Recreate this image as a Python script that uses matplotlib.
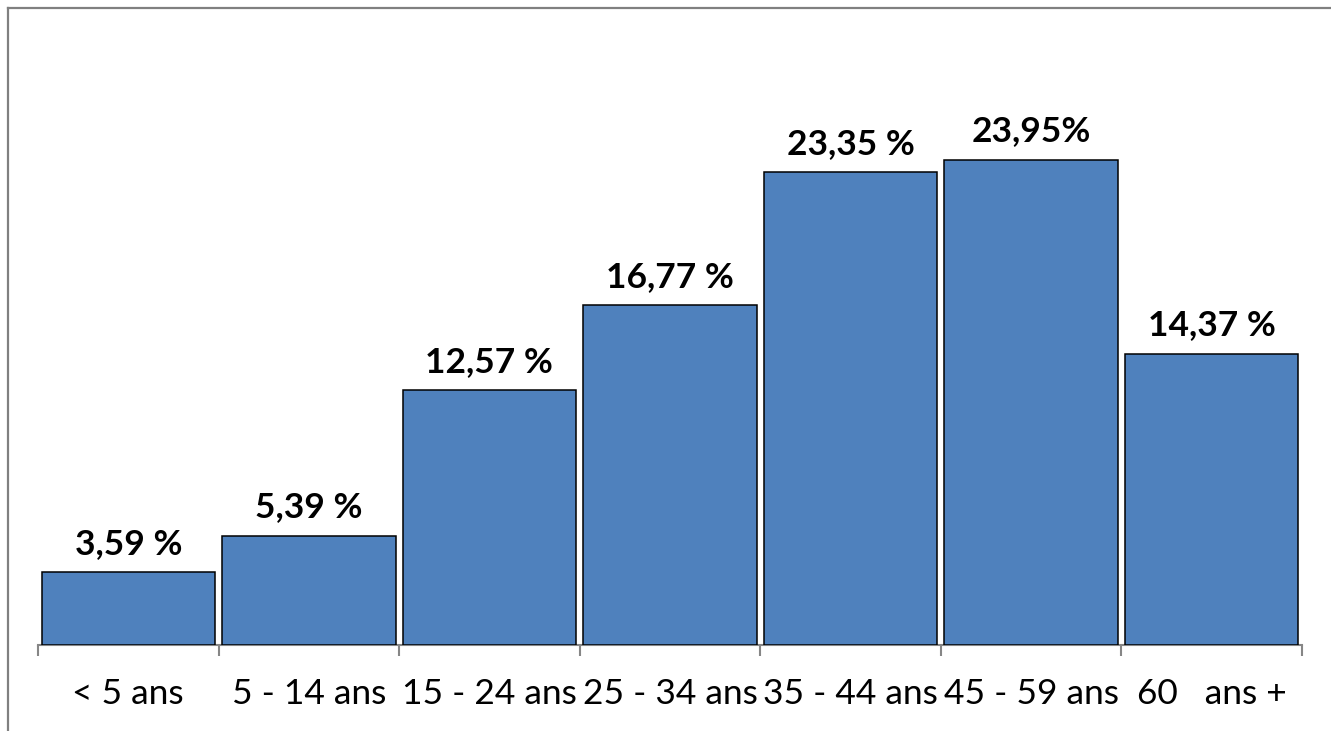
import matplotlib
matplotlib.use("Agg")
import matplotlib.pyplot as plt
from matplotlib.lines import Line2D

categories = ["< 5 ans", "5 - 14 ans", "15 - 24 ans", "25 - 34 ans", "35 - 44 ans", "45 - 59 ans", "60   ans +"]
values = [3.59, 5.39, 12.57, 16.77, 23.35, 23.95, 14.37]
value_labels = ["3,59 %", "5,39 %", "12,57 %", "16,77 %", "23,35 %", "23,95%", "14,37 %"]

W, H = 1331, 731
fig = plt.figure(figsize=(W / 100, H / 100), dpi=100)
plt.rcParams['font.family'] = ['Lato', 'DejaVu Sans']

x0, x1 = 38, 1302
ybase = 645
ymax = 30
pxper = 20.25
ax = fig.add_axes([x0 / W, 1 - ybase / H, (x1 - x0) / W, ymax * pxper / H])

xs = list(range(len(categories)))
ax.bar(xs, values, width=0.96, color="#4F81BD", edgecolor="black", linewidth=1.1, zorder=3)
ax.set_xlim(-0.5, len(categories) - 0.5)
ax.set_ylim(0, ymax)

for x, v, lab in zip(xs, values, value_labels):
    ax.annotate(lab, (x, v), xytext=(0, 9), textcoords="offset points",
                ha="center", va="bottom", fontsize=25.5, fontweight="bold", color="black")

for s in ["top", "right", "left"]:
    ax.spines[s].set_visible(False)
ax.spines["bottom"].set_color("#868686")
ax.spines["bottom"].set_linewidth(1.5)
ax.set_yticks([])
ax.set_xticks(xs)
ax.set_xticklabels(categories, fontsize=25.5)
ax.tick_params(axis="x", which="major", length=0, pad=24)
ax.set_xticks([i - 0.5 for i in range(len(categories) + 1)], minor=True)
ax.tick_params(axis="x", which="minor", length=8, width=1.5, color="#868686", direction="out")

# outer frame (top and left visible)
fig.add_artist(Line2D([8 / W, 1], [1 - 8 / H, 1 - 8 / H], transform=fig.transFigure, color="#808080", lw=1.6))
fig.add_artist(Line2D([8 / W, 8 / W], [0, 1 - 8 / H], transform=fig.transFigure, color="#808080", lw=1.6))

fig.savefig("out.png", dpi=100)
